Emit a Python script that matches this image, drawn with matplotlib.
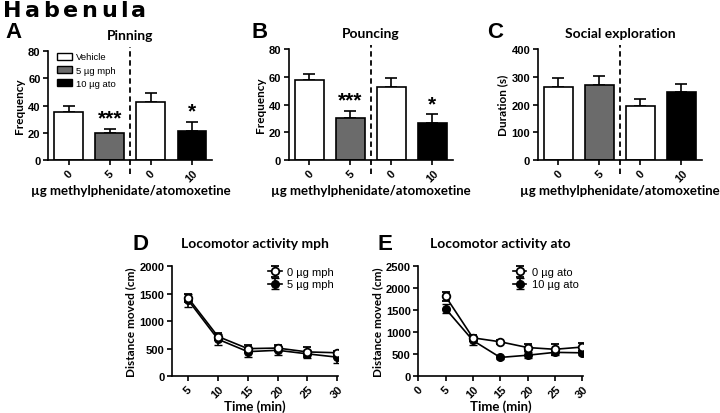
import matplotlib
matplotlib.use("Agg")
import matplotlib.pyplot as plt
from matplotlib.patches import Patch

# bar panels (A, B, C)
groups = ["0", "5", "0", "10"]
bar_colors = ["white", "#6b6b6b", "white", "black"]
pinning = [35.5, 20.0, 42.5, 21.5]
pinning_err = [4.0, 3.0, 6.5, 6.5]
pouncing = [58.0, 30.5, 53.0, 26.5]
pouncing_err = [4.0, 5.0, 6.0, 6.5]
social = [265, 271, 194, 247]
social_err = [31, 33, 25, 26]

# time course panels (D, E)
time = [5, 10, 15, 20, 25, 30]
mph0 = [1420, 720, 500, 510, 440, 425]
mph0_err = [70, 60, 60, 60, 90, 40]
mph5 = [1380, 670, 445, 470, 405, 345]
mph5_err = [120, 100, 90, 80, 70, 100]
ato0 = [1810, 870, 780, 650, 610, 660]
ato0_err = [110, 70, 40, 80, 130, 90]
ato10 = [1530, 810, 425, 475, 540, 530]
ato10_err = [100, 100, 30, 70, 70, 60]

TICKFONT = dict(family="Liberation Sans", weight="bold", size=8)
LABFONT = dict(family="Lato", weight="bold")

fig = plt.figure(figsize=(7.2, 4.14), dpi=100)


def style_axes(ax):
    for s in ["top", "right"]:
        ax.spines[s].set_visible(False)
    for s in ["left", "bottom"]:
        ax.spines[s].set_linewidth(1.2)
    ax.tick_params(width=1.2, length=3.5, direction="out", pad=2)
    for lab in ax.get_xticklabels() + ax.get_yticklabels():
        lab.set_fontproperties(matplotlib.font_manager.FontProperties(**TICKFONT))


def bar_panel(rect, vals, errs, title, ylabel, yticks, stars=None):
    ax = fig.add_axes(rect)
    x = range(len(vals))
    ax.bar(x, vals, width=0.7, color=bar_colors, edgecolor="black", linewidth=1.2, zorder=2)
    ax.errorbar(x, vals, yerr=[[0] * len(errs), errs], fmt="none", ecolor="black",
                elinewidth=1.2, capsize=4, capthick=1.2, zorder=1)
    ax.set_xlim(-0.5, 3.5)
    ax.set_ylim(yticks[0], yticks[-1])
    ax.set_yticks(yticks)
    ax.set_xticks(list(x))
    ax.set_xticklabels(groups, rotation=45, ha="center")
    ax.plot([1.5, 1.5], [-0.13, 1.04], transform=ax.get_xaxis_transform(),
            ls=(0, (3, 2)), color="black", lw=1.3, clip_on=False)
    ax.set_title(title, fontsize=10, pad=9, **LABFONT)
    ax.set_ylabel(ylabel, fontsize=8.5, labelpad=2, **LABFONT)
    ax.set_xlabel("µg methylphenidate/atomoxetine", fontsize=9.5, labelpad=0, **LABFONT)
    style_axes(ax)
    if stars:
        for i, s in stars.items():
            ax.text(i, vals[i] + errs[i] + yticks[-1] * 0.01, s, ha="center", va="bottom",
                    fontsize=15, fontweight="bold", family="Liberation Sans")
    return ax


axA = bar_panel([0.067, 0.611, 0.228, 0.263], pinning, pinning_err, "Pinning", "Frequency",
                [0, 20, 40, 60, 80], {1: "***", 3: "*"})
axB = bar_panel([0.401, 0.611, 0.228, 0.268], pouncing, pouncing_err, "Pouncing", "Frequency",
                [0, 20, 40, 60, 80], {1: "***", 3: "*"})
axC = bar_panel([0.747, 0.611, 0.228, 0.268], social, social_err, "Social exploration",
                "Duration (s)", [0, 100, 200, 300, 400])

handles = [Patch(facecolor=c, edgecolor="black", linewidth=1.0) for c in ["white", "#6b6b6b", "black"]]
axA.legend(handles, ["Vehicle", "5 µg mph", "10 µg ato"], loc="upper left", frameon=False,
           prop=dict(family="Liberation Sans", size=6.8), handlelength=1.6, handleheight=0.8,
           handletextpad=0.4, labelspacing=0.45, borderaxespad=0.2,
           bbox_to_anchor=(0.02, 1.04))

# panel letters (baseline positions)
letter_font = dict(fontsize=16, fontweight="bold", family="Liberation Sans", va="baseline")
fig.text(0.007, 0.908, "A", **letter_font)
fig.text(0.350, 0.908, "B", **letter_font)
fig.text(0.676, 0.908, "C", **letter_font)
fig.text(0.184, 0.395, "D", **letter_font)
fig.text(0.524, 0.395, "E", **letter_font)

# spaced-out header
renderer = fig.canvas.get_renderer()
xpos = 3
for ch in "Habenula":
    t = fig.text(xpos / 720, 0.959, ch, fontsize=16, fontweight="heavy",
                 family="DejaVu Sans", va="baseline")
    w = t.get_window_extent(renderer).width
    xpos += w + 3.5


def time_panel(rect, a, a_err, b, b_err, labels, title, xlim, xticks, ylim, yticks):
    ax = fig.add_axes(rect)
    ax.errorbar(time, a, yerr=a_err, color="black", lw=1.2, marker="o", ms=5.5,
                mfc="white", mec="black", mew=1.3, capsize=3, elinewidth=1.2, zorder=3,
                label=labels[0])
    ax.errorbar(time, b, yerr=b_err, color="black", lw=1.2, marker="o", ms=5.5,
                mfc="black", mec="black", capsize=3, elinewidth=1.2, zorder=2,
                label=labels[1])
    ax.set_xlim(*xlim)
    ax.set_xticks(xticks)
    ax.set_xticklabels([str(t) for t in xticks], rotation=45, ha="center")
    ax.set_ylim(*ylim)
    ax.set_yticks(yticks)
    ax.set_title(title, fontsize=10, pad=14, **LABFONT)
    ax.set_ylabel("Distance moved (cm)", fontsize=8.5, labelpad=2, **LABFONT)
    ax.set_xlabel("Time (min)", fontsize=9.5, labelpad=0, **LABFONT)
    style_axes(ax)
    ax.legend(loc="upper right", frameon=False, prop=dict(family="Liberation Sans", size=8),
              handlelength=1.2, handletextpad=0.5, labelspacing=0.2, borderaxespad=0.0,
              bbox_to_anchor=(1.0, 1.03))
    return ax


time_panel([0.239, 0.089, 0.231, 0.266], mph0, mph0_err, mph5, mph5_err,
           ["0 µg mph", "5 µg mph"], "Locomotor activity mph", (2.3, 30.2), time,
           (0, 2000), [0, 500, 1000, 1500, 2000])
time_panel([0.581, 0.089, 0.229, 0.266], ato0, ato0_err, ato10, ato10_err,
           ["0 µg ato", "10 µg ato"], "Locomotor activity ato", (0, 30.2),
           [0, 5, 10, 15, 20, 25, 30], (0, 2500), [0, 500, 1000, 1500, 2000, 2500])

fig.savefig("out.png", dpi=100)
